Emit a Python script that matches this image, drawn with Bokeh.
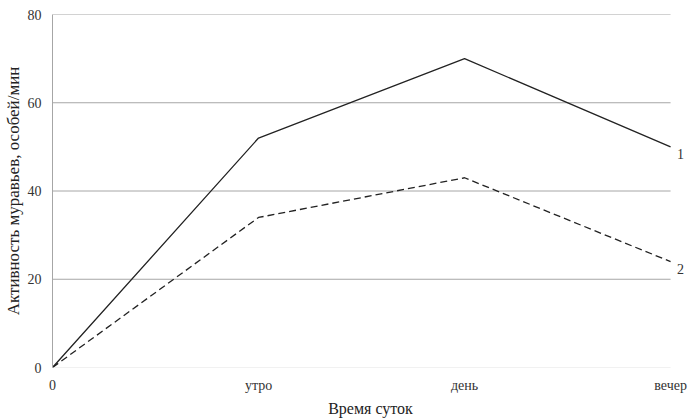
from bokeh.plotting import figure
from bokeh.models import Range1d, FixedTicker, Label
from bokeh.embed import file_html
from bokeh.resources import INLINE

categories = ["0", "утро", "день", "вечер"]
series1 = [0, 52, 70, 50]
series2 = [0, 34, 43, 24]
y_ticks = [0, 20, 40, 60, 80]
series_names = ["1", "2"]

xs = list(range(len(categories)))
FONT = "Liberation Serif"

p = figure(width=688, height=419, output_backend="svg", toolbar_location=None,
           x_range=Range1d(0, 3.087), y_range=Range1d(0, 80),
           min_border_left=0, min_border_right=0, min_border_top=14, min_border_bottom=0)
p.outline_line_color = None
p.border_fill_color = "white"
p.background_fill_color = "white"
p.xgrid.grid_line_color = None
p.ygrid.grid_line_color = None

grid_vals = y_ticks[1:]
p.segment(x0=[xs[0]] * len(grid_vals), x1=[xs[-1]] * len(grid_vals),
          y0=grid_vals, y1=grid_vals, line_color="#a6a6a6", line_width=1)
p.segment(x0=[xs[0]], x1=[xs[-1]], y0=[y_ticks[0]], y1=[y_ticks[0]],
          line_color="#e3e3e3", line_width=1)

p.yaxis.ticker = FixedTicker(ticks=y_ticks)
p.yaxis.axis_line_color = "#a6a6a6"
p.yaxis.major_tick_line_color = None
p.yaxis.minor_tick_line_color = None
p.yaxis.major_label_text_font = FONT
p.yaxis.major_label_text_font_size = "14px"
p.yaxis.major_label_text_color = "#333333"
p.yaxis.major_label_standoff = 5
p.yaxis.axis_label = "Активность муравьев, особей/мин"
p.yaxis.axis_label_text_font = FONT
p.yaxis.axis_label_text_font_size = "17px"
p.yaxis.axis_label_text_font_style = "normal"
p.yaxis.axis_label_text_color = "#222222"
p.yaxis.axis_label_standoff = 2

p.xaxis.ticker = FixedTicker(ticks=xs)
p.xaxis.major_label_overrides = {i: c for i, c in zip(xs, categories)}
p.xaxis.axis_line_color = None
p.xaxis.major_tick_line_color = None
p.xaxis.minor_tick_line_color = None
p.xaxis.major_label_text_font = FONT
p.xaxis.major_label_text_font_size = "14px"
p.xaxis.major_label_text_color = "#333333"
p.xaxis.major_label_standoff = 4
p.xaxis.axis_label = "Время суток"
p.xaxis.axis_label_text_font = FONT
p.xaxis.axis_label_text_font_size = "16px"
p.xaxis.axis_label_text_font_style = "normal"
p.xaxis.axis_label_text_color = "#222222"
p.xaxis.axis_label_standoff = 4

p.line(xs, series1, line_color="#222222", line_width=1.3)
p.line(xs, series2, line_color="#222222", line_width=1.3, line_dash="7 4")

for name, s in zip(series_names, [series1, series2]):
    p.add_layout(Label(x=xs[-1], y=s[-1], text=name, x_offset=10, y_offset=-2,
                       text_align="center", text_baseline="top",
                       text_font=FONT, text_font_size="14px", text_color="#333333"))

open("out.html", "w").write(file_html(p, INLINE))
